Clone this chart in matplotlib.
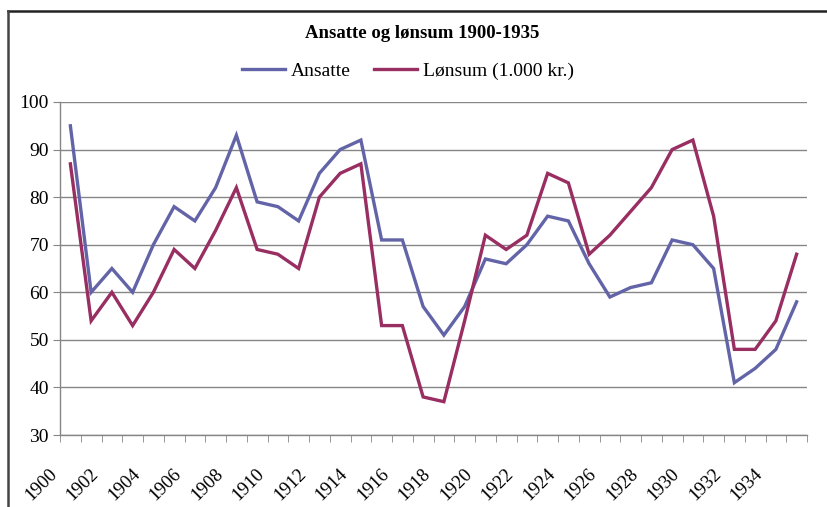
import matplotlib
matplotlib.use("Agg")
import matplotlib.pyplot as plt
import matplotlib.transforms as mtransforms
from matplotlib.lines import Line2D
import numpy as np

plt.rcParams['font.family'] = 'serif'
plt.rcParams['font.serif'] = ['Liberation Serif', 'DejaVu Serif']

years = list(range(1900, 1936))
ansatte = [95, 60, 65, 60, 70, 78, 75, 82, 93, 79, 78, 75, 85, 90, 92, 71, 71, 57,
           51, 57, 67, 66, 70, 76, 75, 66, 59, 61, 62, 71, 70, 65, 41, 44, 48, 58]
lonsum = [87, 54, 60, 53, 60, 69, 65, 73, 82, 69, 68, 65, 80, 85, 87, 53, 53, 38,
          37, 54, 72, 69, 72, 85, 83, 68, 72, 77, 82, 90, 92, 76, 48, 48, 54, 68]
yticks = [30, 40, 50, 60, 70, 80, 90, 100]

blue = '#6264A7'
red = '#982E61'
gray = '#868686'

W, H = 827, 507
fig = plt.figure(figsize=(W / 100, H / 100), dpi=100)
ax = fig.add_axes([60 / W, (H - 435) / H, (807 - 60) / W, (435 - 102) / H])

x = np.arange(len(years))
ax.plot(x, ansatte, color=blue, lw=2.4, label='Ansatte', solid_joinstyle='miter')
ax.plot(x, lonsum, color=red, lw=2.4, label='Lønsum (1.000 kr.)', solid_joinstyle='miter')

ax.set_xlim(-0.5, len(years) - 0.5)
ax.set_ylim(30, 100)
ax.set_yticks(yticks)
ax.yaxis.grid(True, color=gray, lw=1)
ax.set_axisbelow(True)

for s in ['top', 'right']:
    ax.spines[s].set_visible(False)
for s in ['left', 'bottom']:
    ax.spines[s].set_color(gray)
    ax.spines[s].set_linewidth(1)

ax.tick_params(axis='y', length=5, color=gray, labelsize=14, pad=3)

# tick marks between categories, labels every 2nd year
ax.set_xticks(np.arange(-0.5, len(years), 1.0), minor=True)
ax.set_xticks(x[::2])
ax.set_xticklabels([str(y) for y in years[::2]])
ax.tick_params(axis='x', which='minor', length=5, color=gray, direction='out')
ax.tick_params(axis='x', which='major', length=0, labelsize=13.5, pad=26)
shift = mtransforms.ScaledTranslation(-16 / 100, 0, fig.dpi_scale_trans)
for lab in ax.get_xticklabels():
    lab.set_rotation(45)
    lab.set_ha('right')
    lab.set_va('center')
    lab.set_rotation_mode('anchor')
    lab.set_transform(lab.get_transform() + shift)

fig.text(422 / W, 1 - 33 / H, 'Ansatte og lønsum 1900-1935', ha='center', va='center',
         fontsize=13.5, fontweight='bold')

fig.legend(loc='center', bbox_to_anchor=(408 / W, 1 - 71 / H), ncol=2, frameon=False,
           fontsize=14, handlelength=2.2, handletextpad=0.3, columnspacing=1.2)

# outer frame (top and left edges visible)
fig.add_artist(Line2D([8 / W, 1], [1 - 11 / H, 1 - 11 / H], transform=fig.transFigure,
                      color='#222222', lw=1.8))
fig.add_artist(Line2D([8 / W, 8 / W], [0, 1 - 11 / H], transform=fig.transFigure,
                      color='#444444', lw=1.8))

fig.savefig('out.png', dpi=100)
